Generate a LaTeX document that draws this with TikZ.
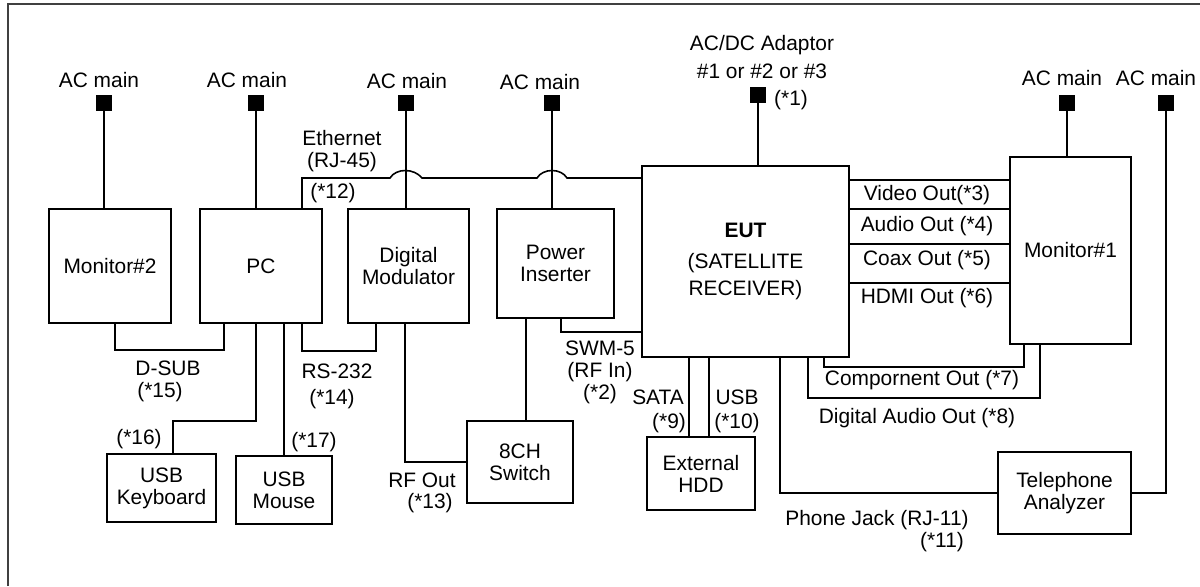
\documentclass[tikz,border=0pt]{standalone}
\usepackage{fontspec}
\setmainfont{Liberation Sans}
\usetikzlibrary{calc}
\tikzset{
  unit/.style={draw=black,line width=0.9pt,align=center,inner sep=1pt}, % equipment box
  plug/.style={fill=black,inner sep=0pt,minimum size=0.32cm},           % mains plug
  cable/.style={line width=0.9pt},
  lbl/.style={inner sep=0pt,align=center},
  frame/.style={draw=black!75,line width=1.3pt},
}

\begin{document}
\begin{tikzpicture}[x=0.02cm,y=-0.02cm,font=\fontsize{11.9}{12.5}\selectfont]
  \useasboundingbox (0,0) rectangle (1200,586);
  \draw[frame] (8,586) -- (8,4) -- (1200,4);

  % equipment
  \node[unit,minimum width=2.44cm,minimum height=2.28cm] (mon2) at (110,266) {Monitor\#2};
  \node[unit,minimum width=2.44cm,minimum height=2.28cm] (pc) at (261,266) {PC};
  \node[unit,minimum width=2.42cm,minimum height=2.28cm] (dmod) at (408.5,266) {Digital\\Modulator};
  \node[unit,minimum width=2.34cm,minimum height=2.18cm] (pins) at (555.5,263.5) {Power\\Inserter};
  \node[unit,minimum width=4.14cm,minimum height=3.82cm] (eut) at (745.5,261.5)
    {\textbf{EUT}\\[5pt](SATELLITE\\[2.8pt]RECEIVER)};
  \node[unit,minimum width=2.42cm,minimum height=3.74cm] (mon1) at (1070.5,250.5) {Monitor\#1};
  \node[unit,minimum width=2.66cm,minimum height=1.64cm] (tel) at (1064.5,493) {Telephone\\Analyzer};
  \node[unit,minimum width=2.16cm,minimum height=1.46cm] (hdd) at (701,473.5) {External\\HDD};
  \node[unit,minimum width=2.12cm,minimum height=1.64cm] (sw8) at (520,462) {8CH\\Switch};
  \node[unit,minimum width=2.18cm,minimum height=1.36cm] (kbd) at (161.5,488) {USB\\Keyboard};
  \node[unit,minimum width=1.92cm,minimum height=1.36cm] (mouse) at (284,490) {USB\\Mouse};

  % mains
  \foreach \n/\x/\y in {1/104/103,2/256/103,3/406/103,4/552/103,5/758/95,6/1067/103,7/1166/103}
    \node[plug] (ac\n) at (\x,\y) {};
  \foreach \n/\x/\y in {1/99/80,2/247/80,3/407/81,4/540/82,6/1062/78,7/1156/78}
    \node[lbl] (acl\n) at (\x,\y) {AC main};
  \node[lbl] (acdc) at (762,57) {AC/DC Adaptor\\[3.4pt]\#1 or \#2 or \#3};
  \node[lbl] (n1) at (791,100) {(*1)};
  \foreach \n/\u in {1/mon2,2/pc,3/dmod,4/pins,5/eut,6/mon1}
    \draw[cable] (ac\n) -- (ac\n |- \u.north);
  \draw[cable] (ac7) |- (tel.east);

  % cables
  \draw[cable] (pc.north -| 302,0) -- (302,178) -- (390,178)
    .. controls (396,168) and (414,168) .. (422,178) -- (537,178)
    .. controls (543,168) and (561,168) .. (567,178) -- (eut.west |- 0,178);
  \foreach \y in {180,209,244,283}
    \draw[cable] (eut.east |- 0,\y) -- (mon1.west |- 0,\y);
  \draw[cable] (eut.south -| 824,0) -- (824,367) -| (mon1.south -| 1024,0);
  \draw[cable] (eut.south -| 808,0) -- (808,398) -| (mon1.south -| 1040,0);
  \draw[cable] (eut.south -| 780,0) |- (tel.west);
  \draw[cable] (eut.south -| 689,0) -- (hdd.north -| 689,0);
  \draw[cable] (eut.south -| 709,0) -- (hdd.north -| 709,0);
  \draw[cable] (pins.south -| 561,0) |- (eut.west |- 0,332);
  \draw[cable] (pins.south -| 526,0) -- (sw8.north -| 526,0);
  \draw[cable] (dmod.south -| 405,0) |- (sw8.west);
  \draw[cable] (mon2.south -| 115,0) -- (115,350) -| (pc.south -| 224,0);
  \draw[cable] (pc.south -| 256,0) -- (256,421) -| (kbd.north -| 173,0);
  \draw[cable] (pc.south -| mouse.north) -- (mouse.north);
  \draw[cable] (pc.south -| 302,0) -- (302,351) -| (dmod.south -| 376,0);

  % cable labels
  \node[lbl] (eth) at (342,151) {Ethernet\\(RJ-45)};
  \node[lbl] (n12) at (333,193) {(*12)};
  \node[lbl] (dsub) at (168,368) {D-SUB};
  \node[lbl] (n15) at (160,392) {(*15)};
  \node[lbl] (rs) at (337,371) {RS-232};
  \node[lbl] (n14) at (332,399) {(*14)};
  \node[lbl] (n16) at (139,439) {(*16)};
  \node[lbl] (n17) at (314,442) {(*17)};
  \node[lbl] (rfo) at (422,480) {RF Out};
  \node[lbl] (n13) at (430,503) {(*13)};
  \node[lbl] (swm) at (600,372) {SWM-5\\(RF In)\\(*2)};
  \node[lbl] (sata) at (658,397) {SATA};
  \node[lbl] (n9) at (669,423) {(*9)};
  \node[lbl] (usb) at (737,397) {USB};
  \node[lbl] (n10) at (737,423) {(*10)};
  \node[lbl] (vid) at (927,195) {Video Out(*3)};
  \node[lbl] (aud) at (927,226) {Audio Out (*4)};
  \node[lbl] (coax) at (927,260) {Coax Out (*5)};
  \node[lbl] (hdmi) at (927,298) {HDMI Out (*6)};
  \node[lbl] (comp) at (922,380) {Compornent Out (*7)};
  \node[lbl] (dig) at (917,418) {Digital Audio Out (*8)};
  \node[lbl] (jack) at (877,520) {Phone Jack (RJ-11)};
  \node[lbl] (n11) at (942,542) {(*11)};
\end{tikzpicture}
\end{document}
